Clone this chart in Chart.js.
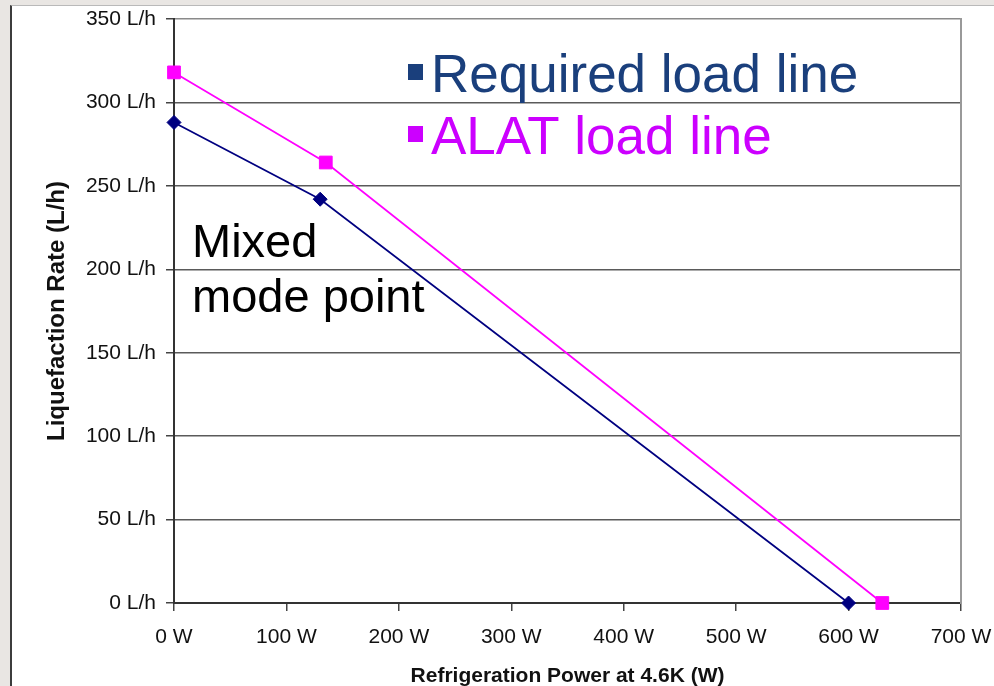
<!DOCTYPE html>
<html>
<head>
<meta charset="utf-8">
<title>Liquefaction rate vs refrigeration power</title>
<script src="https://cdn.jsdelivr.net/npm/chart.js@4/dist/chart.umd.min.js"></script>
<style>
  html, body { margin: 0; padding: 0; width: 994px; height: 686px; overflow: hidden; background: #e9e6e3; }
  #sheet { position: absolute; left: 10px; top: 5px; right: 0; bottom: 0; background: #fff;
           border-left: 2px solid #3c3c3c; border-top: 1px solid #b9b9b9; }
  #chart { position: absolute; left: 0; top: 0; }
</style>
</head>
<body>
<div id="sheet"></div>
<canvas id="chart" width="994" height="686"></canvas>
<script>
// Refrigeration power at 4.6 K (W) and liquefaction rate (L/h) for each load line
const seriesNames = ['Required load line', 'ALAT load line'];
const requiredPower = [0, 130, 600];
const requiredRate = [288, 242, 0];
const alatPower = [0, 135, 630];
const alatRate = [318, 264, 0];

// Axis ranges and labels
const xTicks = [0, 100, 200, 300, 400, 500, 600, 700];
const yTicks = [0, 50, 100, 150, 200, 250, 300, 350];
const xTitle = 'Refrigeration Power at 4.6K (W)';
const yTitle = 'Liquefaction Rate (L/h)';
const noteLines = ['Mixed', 'mode point'];

const FONT = '"Liberation Sans", Arial, Helvetica, sans-serif';

const toPoints = (xs, ys) => xs.map((x, i) => ({ x: x, y: ys[i] }));

// Large legend entries and the free-standing note, drawn on top of the plot
const overlayText = {
  id: 'overlayText',
  afterDraw(chart) {
    const ctx = chart.ctx;
    ctx.save();
    ctx.textAlign = 'left';
    ctx.textBaseline = 'alphabetic';
    const legendColors = ['#1a3f7c', '#cc00ff'];
    const baselines = [92, 154];
    ctx.font = '53px ' + FONT;
    chart.data.datasets.forEach((ds, i) => {
      ctx.fillStyle = legendColors[i];
      ctx.fillRect(408, baselines[i] - 28, 15, 16);
      ctx.fillText(ds.label, 431, baselines[i]);
    });
    ctx.fillStyle = '#000';
    ctx.font = '47px ' + FONT;
    noteLines.forEach((line, i) => ctx.fillText(line, 192, 257 + i * 55));
    ctx.restore();
  }
};

new Chart(document.getElementById('chart'), {
  type: 'scatter',
  data: {
    datasets: [
      {
        label: seriesNames[0],
        data: toPoints(requiredPower, requiredRate),
        showLine: true,
        borderColor: '#000080',
        backgroundColor: '#000080',
        borderWidth: 1.75,
        pointStyle: 'rectRot',
        pointRadius: 7,
        pointHoverRadius: 7,
        pointBorderWidth: 1,
        clip: false
      },
      {
        label: seriesNames[1],
        data: toPoints(alatPower, alatRate),
        showLine: true,
        borderColor: '#ff00ff',
        backgroundColor: '#ff00ff',
        borderWidth: 1.75,
        pointStyle: 'rect',
        pointRadius: 9,
        pointHoverRadius: 9,
        pointBorderWidth: 1,
        clip: false
      }
    ]
  },
  options: {
    responsive: false,
    animation: false,
    events: [],
    layout: { padding: { top: 19, right: 33, left: 0, bottom: 0 } },
    plugins: { legend: { display: false }, tooltip: { enabled: false } },
    scales: {
      x: {
        type: 'linear',
        min: xTicks[0],
        max: xTicks[xTicks.length - 1],
        afterBuildTicks: (s) => { s.ticks = xTicks.map(v => ({ value: v })); },
        afterFit: (s) => { s.height = 83; s.paddingLeft = 0; s.paddingRight = 0; },
        grid: { drawOnChartArea: false, tickLength: 8, color: '#444', lineWidth: 1.5 },
        border: { color: '#333', width: 2 },
        ticks: { color: '#111', padding: 14, font: { family: FONT, size: 21 }, callback: (v) => v + ' W' },
        title: { display: true, text: xTitle, color: '#111', padding: { top: 0, bottom: 0 },
                 font: { family: FONT, size: 21, weight: 'bold', lineHeight: 0.95 } }
      },
      y: {
        type: 'linear',
        min: yTicks[0],
        max: yTicks[yTicks.length - 1],
        afterBuildTicks: (s) => { s.ticks = yTicks.map(v => ({ value: v })); },
        afterFit: (s) => { s.width = 174; s.paddingTop = 0; s.paddingBottom = 0; },
        grid: {
          tickLength: 8,
          lineWidth: 1.5,
          color: (c) => (c.tick && c.tick.value === 350 ? '#8a8a8a' : '#5a5a5a'),
          tickColor: '#444'
        },
        border: { color: '#333', width: 2 },
        ticks: { color: '#111', padding: 10, font: { family: FONT, size: 21 }, callback: (v) => v + ' L/h' },
        title: { display: true, text: yTitle, color: '#111', padding: { top: 43, bottom: 0 },
                 font: { family: FONT, size: 24, weight: 'bold', lineHeight: 1.2 } }
      },
      frame: {
        type: 'linear',
        position: 'right',
        min: 0,
        max: 350,
        afterFit: (s) => { s.width = 0; s.paddingTop = 0; s.paddingBottom = 0; },
        grid: { display: false },
        ticks: { display: false },
        border: { display: true, color: '#999', width: 2 }
      }
    }
  },
  plugins: [overlayText]
});
</script>
</body>
</html>
